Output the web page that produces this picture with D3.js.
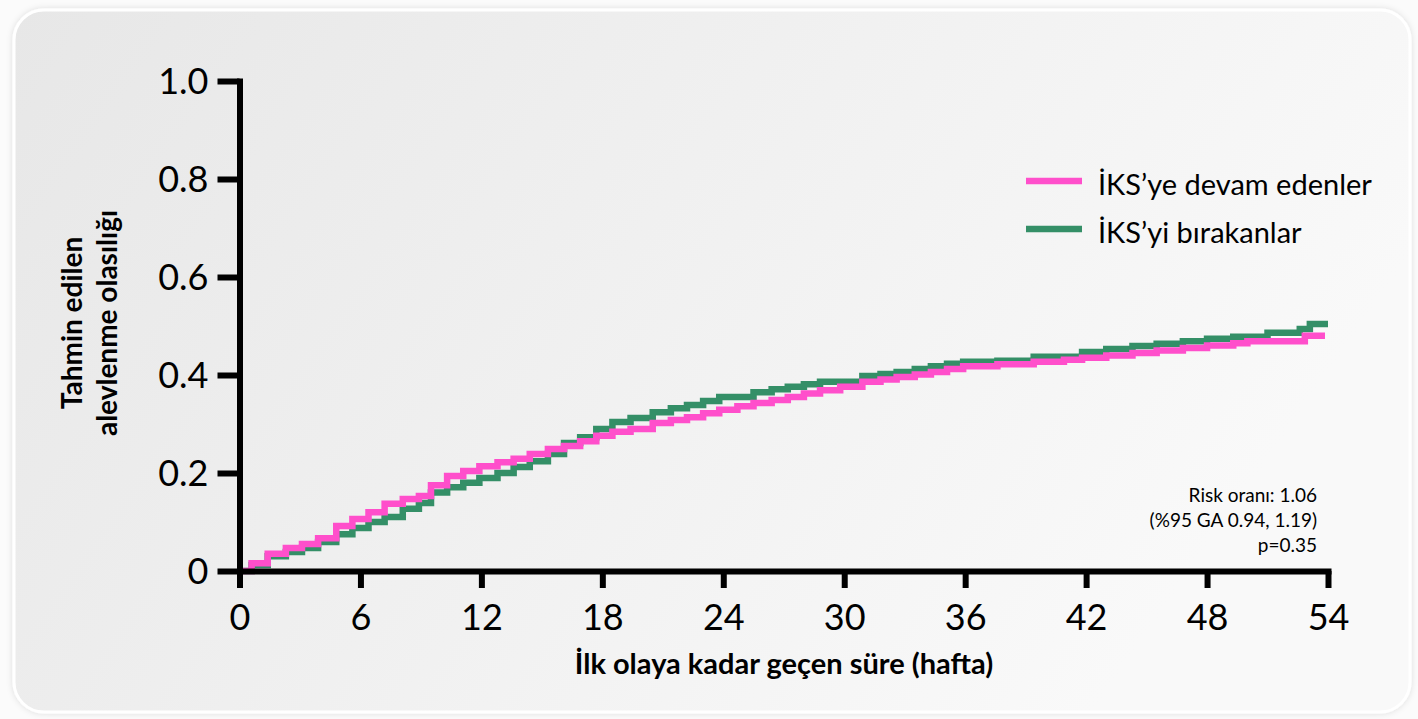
<!DOCTYPE html>
<html>
<head>
<meta charset="utf-8">
<script src="https://cdn.jsdelivr.net/npm/d3@7"></script>
<style>
  html, body { margin: 0; padding: 0; background: #fbfbfb; }
  svg { display: block; }
  text { font-family: Lato, "Open Sans", "DejaVu Sans", sans-serif; fill: #000; }
</style>
</head>
<body>
<svg id="chart" width="1418" height="719"></svg>
<script>
// Kaplan–Meier style cumulative probability of first exacerbation
const xTicks = [0, 6, 12, 18, 24, 30, 36, 42, 48, 54];
const yTicks = [0, 0.2, 0.4, 0.6, 0.8, 1.0];
const yTickLabels = ["0", "0.2", "0.4", "0.6", "0.8", "1.0"];

const seriesNames = ["İKS’ye devam edenler", "İKS’yi bırakanlar"];
const seriesColors = ["#ff4fcb", "#348f67"];

// continuing ICS
const continueWeeks = [0, 0.6, 1.4, 2.3, 3.1, 3.9, 4.8, 5.6, 6.4, 7.2, 8.1, 8.9, 9.5, 10.3, 11.1, 11.9, 12.8,
  13.6, 14.4, 15.3, 16.1, 16.9, 17.7, 18.5, 19.4, 20.5, 21.4, 22.2, 23.0, 23.8, 24.7, 25.5, 26.4, 27.2, 28.0, 28.8, 29.8, 30.9,
  31.8, 32.6, 33.5, 34.3, 35.1, 35.9, 37.6, 39.4, 40.9, 41.8, 43.0, 44.3, 45.5, 46.8, 48.0, 49.3, 50.0, 52.85, 53.85];
const continueProb = [0, 0.016, 0.035, 0.047, 0.055, 0.067, 0.092, 0.106, 0.12, 0.137, 0.147, 0.153, 0.175, 0.194, 0.204, 0.214, 0.222,
  0.229, 0.239, 0.249, 0.255, 0.265, 0.276, 0.284, 0.29, 0.302, 0.308, 0.314, 0.322, 0.329, 0.336, 0.343, 0.349, 0.355, 0.362, 0.369, 0.376, 0.386,
  0.391, 0.396, 0.401, 0.406, 0.412, 0.418, 0.422, 0.427, 0.431, 0.435, 0.44, 0.445, 0.45, 0.455, 0.46, 0.465, 0.469, 0.48, 0.48];

// withdrawn ICS
const stopWeeks = [0, 0.6, 1.4, 2.3, 3.1, 3.9, 4.8, 5.6, 6.4, 7.2, 8.1, 8.9, 9.5, 10.3, 11.1, 11.9, 12.8,
  13.6, 14.4, 15.3, 16.1, 16.9, 17.7, 18.5, 19.4, 20.5, 21.4, 22.2, 23.0, 23.8, 25.5, 26.4, 27.2, 28.0, 28.8, 30.9,
  31.8, 32.6, 33.5, 34.3, 35.1, 35.9, 37.6, 39.4, 41.8, 43.0, 44.3, 45.5, 46.8, 48.0, 49.3, 51.0, 52.6, 53.1, 54.0];
const stopProb = [0, 0.012, 0.03, 0.039, 0.047, 0.059, 0.075, 0.088, 0.1, 0.11, 0.127, 0.139, 0.16, 0.171, 0.18, 0.19, 0.2,
  0.212, 0.224, 0.239, 0.261, 0.273, 0.29, 0.304, 0.312, 0.324, 0.332, 0.339, 0.347, 0.355, 0.365, 0.371, 0.376, 0.381, 0.386, 0.398,
  0.402, 0.406, 0.412, 0.418, 0.423, 0.427, 0.429, 0.437, 0.447, 0.453, 0.459, 0.464, 0.469, 0.474, 0.478, 0.486, 0.494, 0.504, 0.504];

const statLines = ["Risk oranı: 1.06", "(%95 GA 0.94, 1.19)", "p=0.35"];

const svg = d3.select("#chart");
const defs = svg.append("defs");

// panel background
const grad = defs.append("linearGradient").attr("id", "panelFill")
  .attr("x1", 0).attr("y1", 0).attr("x2", 1).attr("y2", 0.35);
grad.append("stop").attr("offset", 0).attr("stop-color", "#e7e7e7");
grad.append("stop").attr("offset", 1).attr("stop-color", "#f9f9f9");
const shadow = defs.append("filter").attr("id", "soft").attr("x", -0.05).attr("y", -0.05).attr("width", 1.1).attr("height", 1.1);
shadow.append("feDropShadow").attr("dx", 0).attr("dy", 0).attr("stdDeviation", 3).attr("flood-color", "#000").attr("flood-opacity", 0.12);

svg.append("rect").attr("x", 14).attr("y", 10).attr("width", 1396).attr("height", 702)
  .attr("rx", 30).attr("ry", 30)
  .attr("fill", "url(#panelFill)").attr("stroke", "#ffffff").attr("stroke-width", 3)
  .attr("filter", "url(#soft)");

const x = d3.scaleLinear().domain([0, 54]).range([239.5, 1328]);
const y = d3.scaleLinear().domain([0, 1]).range([571, 81]);

// curves
const line = d3.line().x(d => x(d[0])).y(d => y(d[1])).curve(d3.curveStepAfter);
const series = [
  { pts: d3.zip(stopWeeks, stopProb), color: seriesColors[1] },
  { pts: d3.zip(continueWeeks, continueProb), color: seriesColors[0] }
];
svg.append("g").selectAll("path").data(series).join("path")
  .attr("d", d => line(d.pts))
  .attr("fill", "none")
  .attr("stroke", d => d.color)
  .attr("stroke-width", 6.5)
  .attr("stroke-linejoin", "miter");

// axes
const yAxis = d3.axisLeft(y).tickValues(yTicks).tickSize(22).tickSizeOuter(0).tickPadding(9)
  .tickFormat((d, i) => yTickLabels[i]);
const xAxis = d3.axisBottom(x).tickValues(xTicks).tickSize(17).tickSizeOuter(0).tickPadding(16)
  .tickFormat(d => String(d));

const gy = svg.append("g").attr("transform", `translate(${x(0)},0)`).call(yAxis);
const gx = svg.append("g").attr("transform", `translate(0,${y(0)})`).call(xAxis);
[gx, gy].forEach(g => {
  g.select(".domain").attr("stroke", "#000").attr("stroke-width", 6).attr("stroke-linecap", "square");
  g.selectAll(".tick line").attr("stroke", "#000").attr("stroke-width", 6);
  g.selectAll(".tick text").attr("font-size", 36).attr("fill", "#000")
    .style("font-family", "Lato, 'Open Sans', sans-serif");
});
gy.selectAll(".tick text").attr("dy", "0.36em");
gx.selectAll(".tick text").attr("dy", "0.72em");

// axis titles
svg.append("text").attr("x", 784).attr("y", 674).attr("text-anchor", "middle")
  .attr("font-size", 29).attr("font-weight", "bold")
  .text("İlk olaya kadar geçen süre (hafta)");
const yTitle = svg.append("text").attr("transform", "translate(90,323) rotate(-90)")
  .attr("text-anchor", "middle").attr("font-size", 28).attr("font-weight", "bold");
yTitle.append("tspan").attr("x", 0).attr("y", -8).text("Tahmin edilen");
yTitle.append("tspan").attr("x", 0).attr("y", 27).text("alevlenme olasılığı");

// legend
const legend = svg.append("g");
const legendRows = [
  { name: seriesNames[0], color: seriesColors[0], y: 181 },
  { name: seriesNames[1], color: seriesColors[1], y: 229 }
];
legendRows.forEach(r => {
  legend.append("line").attr("x1", 1026).attr("x2", 1082).attr("y1", r.y).attr("y2", r.y)
    .attr("stroke", r.color).attr("stroke-width", 6.5);
  legend.append("text").attr("x", 1098).attr("y", r.y + 14).attr("font-size", 29).text(r.name);
});

// hazard ratio annotation
svg.append("g").selectAll("text").data(statLines).join("text")
  .attr("x", 1317).attr("y", (d, i) => 502 + i * 25)
  .attr("text-anchor", "end").attr("font-size", 19)
  .text(d => d);
</script>
</body>
</html>
